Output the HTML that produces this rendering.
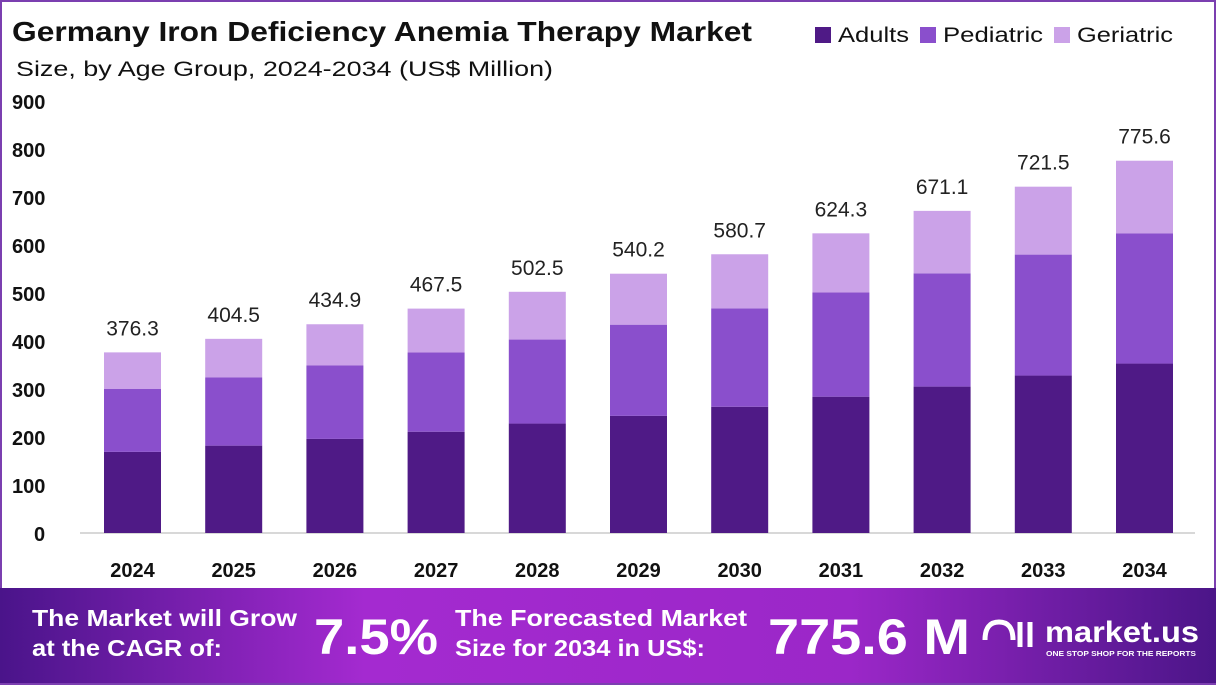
<!DOCTYPE html><html><head><meta charset="utf-8"><style>
body{margin:0;width:1216px;height:685px;overflow:hidden;background:#fff;font-family:"Liberation Sans",sans-serif}
</style></head><body>
<svg width="1216" height="685" xmlns="http://www.w3.org/2000/svg" font-family="Liberation Sans, sans-serif">
<defs><linearGradient id="g" x1="0" x2="1"><stop offset="0" stop-color="#4a148a"/><stop offset="0.3" stop-color="#a42ad0"/><stop offset="0.7" stop-color="#9b27c8"/><stop offset="1" stop-color="#4b1588"/></linearGradient></defs>
<rect x="1" y="1" width="1214" height="683" fill="#fff" stroke="#7b3fb0" stroke-width="2"/>
<text x="12" y="41" font-size="28" font-weight="bold" fill="#111" textLength="740" lengthAdjust="spacingAndGlyphs">Germany Iron Deficiency Anemia Therapy Market</text>
<text x="16" y="76" font-size="21" fill="#111" textLength="537" lengthAdjust="spacingAndGlyphs">Size, by Age Group, 2024-2034 (US$ Million)</text>
<rect x="815" y="27" width="16" height="16" fill="#4f1a86"/><text x="838" y="42" font-size="21" fill="#111" textLength="71" lengthAdjust="spacingAndGlyphs">Adults</text>
<rect x="920" y="27" width="16" height="16" fill="#8a4fcc"/><text x="943" y="42" font-size="21" fill="#111" textLength="100" lengthAdjust="spacingAndGlyphs">Pediatric</text>
<rect x="1054" y="27" width="16" height="16" fill="#cba2e8"/><text x="1077" y="42" font-size="21" fill="#111" textLength="96" lengthAdjust="spacingAndGlyphs">Geriatric</text>
<g font-size="20" font-weight="bold" fill="#111">
<text x="12" y="109">900</text><text x="12" y="157">800</text><text x="12" y="205">700</text><text x="12" y="253">600</text><text x="12" y="301">500</text><text x="12" y="349">400</text><text x="12" y="397">300</text><text x="12" y="445">200</text><text x="12" y="493">100</text><text x="34" y="541">0</text>
</g>
<line x1="80" y1="533" x2="1195" y2="533" stroke="#ccc" stroke-width="1.5"/>
<g id="bars"></g>
<rect x="0" y="588" width="1216" height="95" fill="url(#g)"/>
<g fill="#fff" font-weight="bold">
<text x="32" y="626" font-size="23" textLength="265" lengthAdjust="spacingAndGlyphs">The Market will Grow</text>
<text x="32" y="656" font-size="23" textLength="190" lengthAdjust="spacingAndGlyphs">at the CAGR of:</text>
<text x="314" y="654" font-size="50" textLength="124" lengthAdjust="spacingAndGlyphs">7.5%</text>
<text x="455" y="626" font-size="23" textLength="292" lengthAdjust="spacingAndGlyphs">The Forecasted Market</text>
<text x="455" y="656" font-size="23" textLength="250" lengthAdjust="spacingAndGlyphs">Size for 2034 in US$:</text>
<text x="768" y="654" font-size="50" textLength="202" lengthAdjust="spacingAndGlyphs">775.6 M</text>
<text x="1045" y="642" font-size="30" textLength="154" lengthAdjust="spacingAndGlyphs">market.us</text>
<text x="1046" y="656" font-size="7" textLength="150" lengthAdjust="spacingAndGlyphs">ONE STOP SHOP FOR THE REPORTS</text>
<path d="M985 640 q0-18 14-18 q14 0 14 18 M1020 622 v25 M1030 622 v25" stroke="#fff" stroke-width="5" fill="none"/>
</g>
</svg>
<script>
var d=[[169,300,376.3],[182,324,404.5],[196,349,434.9],[211,376,467.5],[228,403,502.5],[244,434,540.2],[263,468,580.7],[284,501,624.3],[305,541,671.1],[328,580,721.5],[353,624,775.6]];
var s='';
function y(v){return 533-v*0.48}
d.forEach(function(r,i){var x=104+i*101.2,w=57,c=x+w/2;
s+='<rect x="'+x+'" y="'+y(r[0])+'" width="'+w+'" height="'+(r[0]*0.48)+'" fill="#4f1a86"/>';
s+='<rect x="'+x+'" y="'+y(r[1])+'" width="'+w+'" height="'+((r[1]-r[0])*0.48)+'" fill="#8a4fcc"/>';
s+='<rect x="'+x+'" y="'+y(r[2])+'" width="'+w+'" height="'+((r[2]-r[1])*0.48)+'" fill="#cba2e8"/>';
s+='<text x="'+c+'" y="'+(y(r[2])-17)+'" font-size="21" text-anchor="middle" fill="#222">'+r[2].toFixed(1)+'</text>';
s+='<text x="'+c+'" y="577" font-size="20" font-weight="bold" text-anchor="middle" fill="#111">'+(2024+i)+'</text>';});
document.getElementById('bars').innerHTML=s;
</script>
</body></html>
